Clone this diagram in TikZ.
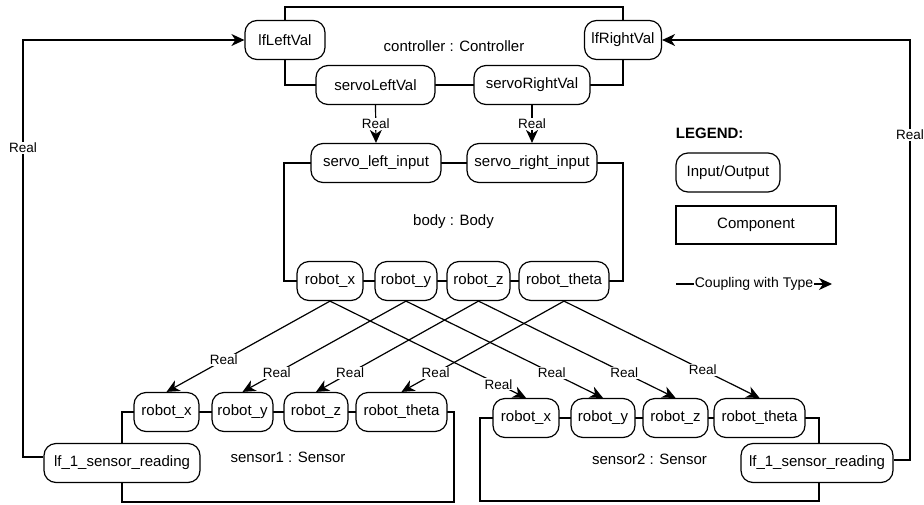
\documentclass[tikz,border=0pt]{standalone}
\usepackage{fontspec}
\setmainfont{Liberation Sans}
\usetikzlibrary{arrows.meta}

\begin{document}
\begin{tikzpicture}[x=1pt, y=-1pt, line width=1.2pt,
  txt/.style={font=\fontsize{15}{18}\selectfont},
  port/.style={draw, fill=white, rounded corners=12pt, minimum height=39pt, inner sep=0pt, txt},
  comp/.style={draw, inner sep=0pt, txt},
  lbl/.style={fill=white, inner sep=1pt, font=\fontsize{13.5}{16}\selectfont},
  flow/.style={-{Stealth[length=13pt,width=12pt,inset=4pt]}},
]
\useasboundingbox (0,0) rectangle (924,504);

% components (boxes with their instance names)
\node[comp, minimum width=338pt, minimum height=78pt] (ctrl) at (454,46) {controller : Controller};
\node[comp, minimum width=339pt, minimum height=118pt] (body) at (453.5,222) {body : Body};
\node[comp, minimum width=332pt, minimum height=90pt] (sen1) at (288,457) {sensor1 : Sensor};
\node[comp, minimum width=339pt, minimum height=83pt] (sen2) at (649.5,459.5) {sensor2 : Sensor};

% controller ports
\node[port, minimum width=80pt]  (lfL) at (285,40)  {lfLeftVal};
\node[port, minimum width=77pt]  (lfR) at (623,40)  {lfRightVal};
\node[port, minimum width=119pt] (sLV) at (375.5,85) {servoLeftVal};
\node[port, minimum width=116pt] (sRV) at (532,85)  {servoRightVal};

% body ports
\node[port, minimum width=130pt] (sli) at (376,163) {servo\_left\_input};
\node[port, minimum width=130pt] (sri) at (532,163) {servo\_right\_input};
\node[port, minimum width=66pt] (bx) at (330,281)   {robot\_x};
\node[port, minimum width=62pt] (by) at (406,281)   {robot\_y};
\node[port, minimum width=63pt] (bz) at (478.5,281) {robot\_z};
\node[port, minimum width=90pt] (bt) at (564,281)   {robot\_theta};

% sensor1 ports
\node[port, minimum width=65pt] (s1x) at (166.5,412) {robot\_x};
\node[port, minimum width=61pt] (s1y) at (242.5,412) {robot\_y};
\node[port, minimum width=64pt] (s1z) at (316,412)   {robot\_z};
\node[port, minimum width=91pt] (s1t) at (401.5,412) {robot\_theta};
\node[port, minimum width=156pt] (s1lf) at (122,463) {lf\_1\_sensor\_reading};

% sensor2 ports
\node[port, minimum width=66pt] (s2x) at (526,418)   {robot\_x};
\node[port, minimum width=64pt] (s2y) at (603,418)   {robot\_y};
\node[port, minimum width=65pt] (s2z) at (675.5,418) {robot\_z};
\node[port, minimum width=91pt] (s2t) at (759.5,418) {robot\_theta};
\node[port, minimum width=152pt] (s2lf) at (817,463) {lf\_1\_sensor\_reading};

% controller -> body
\draw[flow] (sLV.south) -- node[lbl]{Real} (sli.north);
\draw[flow] (sRV.south) -- node[lbl]{Real} (sri.north);

% body -> sensor1
\draw[flow] (bx.south) -- node[lbl, pos=0.65]{Real} (s1x.north);
\draw[flow] (by.south) -- node[lbl, pos=0.79]{Real} (s1y.north);
\draw[flow] (bz.south) -- node[lbl, pos=0.79]{Real} (s1z.north);
\draw[flow] (bt.south) -- node[lbl, pos=0.79]{Real} (s1t.north);

% body -> sensor2
\draw[flow] (bx.south) -- node[lbl, pos=0.86]{Real} (s2x.north);
\draw[flow] (by.south) -- node[lbl, pos=0.74]{Real} (s2y.north);
\draw[flow] (bz.south) -- node[lbl, pos=0.74]{Real} (s2z.north);
\draw[flow] (bt.south) -- node[lbl, pos=0.71]{Real} (s2t.north);

% sensor readings fed back to the controller
\coordinate (fbL) at (23,148);
\coordinate (fbR) at (910,135);
\draw[flow] ([yshift=6pt]s1lf.west) -| (fbL) node[lbl]{Real} |- (lfL.west);
\draw[flow] ([yshift=3pt]s2lf.east) -| (fbR) node[lbl]{Real} |- (lfR.east);

% legend
\node[anchor=west, font=\fontsize{15}{18}\selectfont\bfseries] (leg) at (672,133) {LEGEND:};
\node[port, minimum width=104pt] (legio) at (728,172.5) {Input/Output};
\node[comp, minimum width=160pt, minimum height=38pt] (legcomp) at (756,225) {Component};
\coordinate (cA) at (676,284);
\coordinate (cB) at (832,284);
\draw[flow] (cA) -- node[fill=white, inner sep=1pt, font=\fontsize{14}{16}\selectfont]{Coupling with Type} (cB);
\end{tikzpicture}
\end{document}
